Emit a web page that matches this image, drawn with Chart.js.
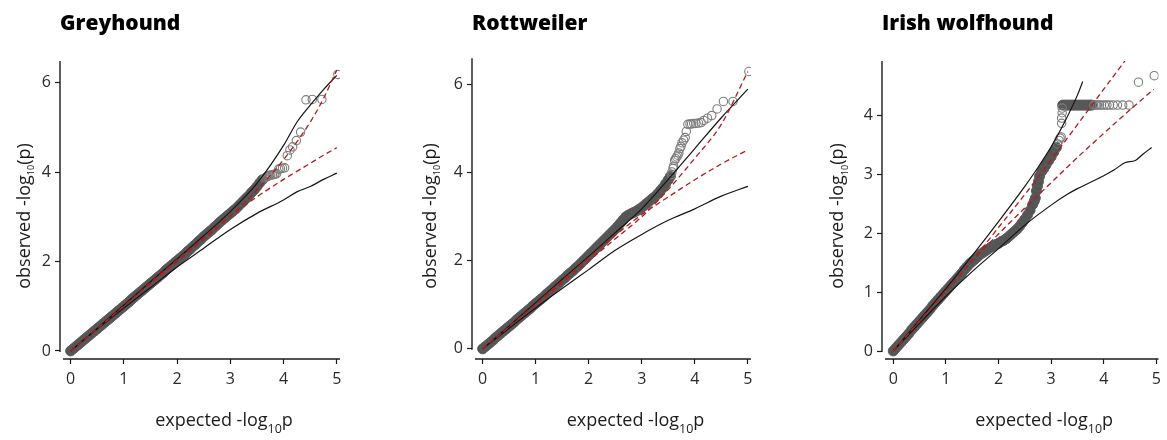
<!DOCTYPE html>
<html>
<head>
<meta charset="utf-8">
<title>QQ plots</title>
<script src="https://cdn.jsdelivr.net/npm/chart.js@4.4.1/dist/chart.umd.min.js"></script>
<style>
  html, body { margin: 0; padding: 0; background: #fff; }
  #wrap { position: relative; width: 1167px; height: 440px; }
  #wrap canvas { position: absolute; top: 0; }
</style>
</head>
<body>
<div id="wrap">
  <canvas id="greyhound" width="389" height="440" style="left:0px"></canvas>
  <canvas id="rottweiler" width="389" height="440" style="left:389px"></canvas>
  <canvas id="wolfhound" width="389" height="440" style="left:778px"></canvas>
</div>
<script>
// shared axis text
const xTicks = [0, 1, 2, 3, 4, 5];
const xTitleParts = ['expected -log', '10', 'p'];
const yTitleParts = ['observed -log', '10', '(p)'];

// Greyhound
const greyTitle = 'Greyhound';
const greyYTicks = [0, 2, 4, 6];
const greyCurveX = [0, 0.5, 1, 1.5, 2, 2.5, 3, 3.5, 4, 4.25, 4.5, 4.75, 5];
const greyBandUpper = [0, 0.51, 1.03, 1.55, 2.06, 2.58, 3.12, 3.75, 4.6, 5.12, 5.5, 5.85, 6.17];
const greyBandLower = [0, 0.49, 0.96, 1.42, 1.88, 2.3, 2.72, 3.08, 3.38, 3.56, 3.68, 3.84, 3.98];
const greyRedUpper = [0, 0.5, 1.0, 1.5, 2.0, 2.5, 3.02, 3.6, 4.28, 4.68, 5.12, 5.65, 6.29];
const greyRedLower = [0, 0.5, 1.01, 1.53, 2.04, 2.54, 3.02, 3.45, 3.84, 4.02, 4.2, 4.38, 4.55];
const greyDenseX = [0, 0.05, 0.1, 0.15, 0.2, 0.25, 0.3, 0.35, 0.4, 0.45, 0.5, 0.55, 0.6, 0.65, 0.7, 0.75, 0.8, 0.85, 0.9, 0.95,
  1.0, 1.05, 1.1, 1.15, 1.2, 1.25, 1.3, 1.35, 1.4, 1.45, 1.5, 1.55, 1.6, 1.65, 1.7, 1.75, 1.8, 1.85, 1.9, 1.95,
  2.0, 2.05, 2.1, 2.15, 2.2, 2.25, 2.3, 2.35, 2.4, 2.45, 2.5, 2.55, 2.6, 2.65, 2.7, 2.75, 2.8, 2.85, 2.9, 2.95,
  3.0, 3.05, 3.1, 3.15, 3.2, 3.25, 3.3, 3.35, 3.4, 3.45, 3.5, 3.55, 3.6];
const greyDenseY = [0, 0.05, 0.1, 0.15, 0.2, 0.25, 0.3, 0.35, 0.4, 0.45, 0.5, 0.55, 0.6, 0.65, 0.7, 0.75, 0.8, 0.85, 0.9, 0.95,
  1.0, 1.05, 1.1, 1.16, 1.21, 1.26, 1.31, 1.36, 1.41, 1.46, 1.51, 1.56, 1.61, 1.66, 1.71, 1.76, 1.82, 1.87, 1.92, 1.97,
  2.02, 2.07, 2.12, 2.17, 2.23, 2.28, 2.34, 2.39, 2.45, 2.5, 2.56, 2.61, 2.66, 2.71, 2.77, 2.82, 2.88, 2.93, 2.98, 3.03,
  3.08, 3.13, 3.18, 3.24, 3.3, 3.36, 3.42, 3.48, 3.55, 3.61, 3.68, 3.76, 3.83];
const greyTailX = [3.64, 3.66, 3.68, 3.7, 3.72, 3.74, 3.76, 3.79, 3.82, 3.84, 3.87, 3.91, 3.94, 3.98, 4.02,
  4.07, 4.12, 4.17, 4.24, 4.32, 4.42, 4.54, 4.72, 5.02];
const greyTailY = [3.86, 3.88, 3.9, 3.91, 3.92, 3.93, 3.94, 3.94, 3.95, 3.96, 3.97, 4.07, 4.08, 4.09, 4.1,
  4.37, 4.5, 4.57, 4.71, 4.9, 5.62, 5.63, 5.63, 6.19];

// Rottweiler
const rottTitle = 'Rottweiler';
const rottYTicks = [0, 2, 4, 6];
const rottCurveX = [0, 0.5, 1, 1.5, 2, 2.5, 3, 3.5, 4, 4.5, 5];
const rottBandUpper = [0, 0.52, 1.05, 1.58, 2.1, 2.64, 3.18, 3.85, 4.55, 5.25, 5.9];
const rottBandLower = [0, 0.47, 0.93, 1.37, 1.8, 2.24, 2.6, 2.92, 3.18, 3.47, 3.69];
const rottRedUpper = [0, 0.5, 1.0, 1.5, 2.0, 2.5, 3.0, 3.62, 4.33, 5.1, 6.3];
const rottRedLower = [0, 0.51, 1.02, 1.55, 2.07, 2.58, 3.05, 3.45, 3.84, 4.2, 4.52];
const rottDenseX = [0, 0.05, 0.1, 0.15, 0.2, 0.25, 0.3, 0.35, 0.4, 0.45, 0.5, 0.55, 0.6, 0.65, 0.7, 0.75, 0.8, 0.85, 0.9, 0.95,
  1.0, 1.05, 1.1, 1.15, 1.2, 1.25, 1.3, 1.35, 1.4, 1.45, 1.5, 1.55, 1.6, 1.65, 1.7, 1.75, 1.8, 1.85, 1.9, 1.95,
  2.0, 2.05, 2.1, 2.15, 2.2, 2.25, 2.3, 2.35, 2.4, 2.45, 2.5, 2.55, 2.6, 2.65, 2.7, 2.75, 2.8, 2.85, 2.9, 2.95,
  3.0, 3.05, 3.1, 3.15, 3.2, 3.25, 3.3, 3.35, 3.4, 3.45, 3.5, 3.54];
const rottDenseY = [0, 0.05, 0.1, 0.15, 0.2, 0.26, 0.31, 0.36, 0.41, 0.46, 0.51, 0.56, 0.61, 0.67, 0.72, 0.77, 0.82, 0.87, 0.92, 0.98,
  1.03, 1.08, 1.13, 1.18, 1.24, 1.29, 1.34, 1.4, 1.45, 1.5, 1.56, 1.61, 1.67, 1.72, 1.77, 1.83, 1.88, 1.94, 2.0, 2.06,
  2.12, 2.18, 2.24, 2.3, 2.36, 2.42, 2.48, 2.54, 2.6, 2.66, 2.72, 2.79, 2.86, 2.93, 3.0, 3.04, 3.07, 3.1, 3.13, 3.17,
  3.21, 3.26, 3.31, 3.36, 3.41, 3.46, 3.52, 3.59, 3.66, 3.75, 3.84, 3.92];
const rottTailX = [3.56, 3.57, 3.59, 3.6, 3.62, 3.64, 3.66, 3.68, 3.7, 3.72, 3.74, 3.76, 3.79, 3.82, 3.84,
  3.87, 3.91, 3.94, 3.98, 4.02, 4.07, 4.12, 4.17, 4.24, 4.32, 4.42, 4.54, 4.72, 5.02];
const rottTailY = [3.96, 4.02, 4.1, 4.15, 4.28, 4.32, 4.36, 4.4, 4.45, 4.55, 4.6, 4.68, 4.74, 4.8, 4.94,
  5.1, 5.11, 5.11, 5.12, 5.12, 5.13, 5.14, 5.19, 5.24, 5.3, 5.45, 5.62, 5.62, 6.3];

// Irish wolfhound
const wolfTitle = 'Irish wolfhound';
const wolfYTicks = [0, 1, 2, 3, 4];
const wolfUpperX = [0, 0.5, 1, 1.5, 2, 2.5, 2.75, 3, 3.25, 3.5, 3.6];
const wolfBandUpper = [0, 0.53, 1.06, 1.62, 2.2, 2.8, 3.12, 3.47, 3.88, 4.35, 4.58];
const wolfLowerX = [0, 0.5, 1, 1.5, 2, 2.5, 3, 3.3, 3.5, 4, 4.2, 4.4, 4.6, 4.75, 4.91];
const wolfBandLower = [0, 0.47, 0.93, 1.35, 1.74, 2.14, 2.48, 2.66, 2.76, 2.98, 3.08, 3.2, 3.24, 3.35, 3.46];
const wolfRedUpperX = [0, 0.5, 1, 1.5, 2, 2.5, 3, 3.5, 4, 4.5];
const wolfRedUpper = [0, 0.51, 1.02, 1.54, 2.1, 2.66, 3.25, 3.85, 4.45, 5.05];
const wolfRedLowerX = [0, 0.5, 1, 1.5, 2, 2.5, 3, 3.5, 4, 4.5, 4.95];
const wolfRedLower = [0, 0.51, 1.02, 1.53, 1.99, 2.43, 2.86, 3.29, 3.7, 4.1, 4.45];
const wolfDenseX = [0, 0.05, 0.1, 0.15, 0.2, 0.25, 0.3, 0.35, 0.4, 0.45, 0.5, 0.55, 0.6, 0.65, 0.7, 0.75, 0.8, 0.85, 0.9, 0.95,
  1.0, 1.05, 1.1, 1.15, 1.2, 1.25, 1.3, 1.35, 1.4, 1.45, 1.5, 1.55, 1.6, 1.65, 1.7, 1.75, 1.8, 1.85, 1.9, 1.95,
  2.0, 2.05, 2.1, 2.15, 2.2, 2.25, 2.3, 2.35, 2.4, 2.45, 2.5, 2.55, 2.6, 2.65, 2.68, 2.7, 2.72, 2.74, 2.76, 2.78,
  2.82, 2.86, 2.9, 2.95, 3.0, 3.05, 3.1,
  3.22, 3.26, 3.3, 3.34, 3.38, 3.42, 3.46, 3.5, 3.54, 3.58, 3.62, 3.66, 3.7, 3.74, 3.77];
const wolfDenseY = [0, 0.05, 0.1, 0.15, 0.2, 0.25, 0.3, 0.36, 0.41, 0.46, 0.51, 0.56, 0.61, 0.66, 0.71, 0.77, 0.82, 0.87, 0.92, 0.97,
  1.02, 1.07, 1.12, 1.17, 1.22, 1.27, 1.32, 1.38, 1.43, 1.48, 1.52, 1.56, 1.6, 1.64, 1.67, 1.7, 1.73, 1.76, 1.78, 1.81,
  1.83, 1.86, 1.88, 1.91, 1.95, 1.99, 2.03, 2.07, 2.12, 2.18, 2.24, 2.31, 2.39, 2.49, 2.55, 2.6, 2.72, 2.8, 2.88, 2.97,
  3.05, 3.1, 3.16, 3.23, 3.3, 3.38, 3.46,
  4.18, 4.18, 4.18, 4.18, 4.18, 4.18, 4.18, 4.18, 4.18, 4.18, 4.18, 4.18, 4.18, 4.18, 4.18];
const wolfTailX = [3.12, 3.15, 3.17, 3.19, 3.2, 3.2, 3.21, 3.21, 3.81, 3.85, 3.88, 3.92, 3.96, 4.01, 4.06,
  4.11, 4.18, 4.26, 4.36, 4.48, 4.66, 4.96];
const wolfTailY = [3.52, 3.58, 3.62, 3.64, 3.87, 3.96, 4.05, 4.13, 4.18, 4.18, 4.18, 4.18, 4.18, 4.18, 4.18,
  4.18, 4.18, 4.18, 4.18, 4.18, 4.57, 4.68];

Chart.defaults.font.family = '"Open Sans", sans-serif';

function pts(xs, ys) {
  return xs.map((x, i) => ({ x: x, y: ys[i] }));
}

// text with a subscript in the middle part (log10)
function drawSubText(ctx, parts, x, y, rot, sizes, drop) {
  const fonts = parts.map((p, i) => (i === 1 ? sizes[1] : sizes[0]) + 'px "Open Sans", sans-serif');
  const widths = parts.map((p, i) => { ctx.font = fonts[i]; return ctx.measureText(p).width; });
  const total = widths.reduce((s, w) => s + w, 0);
  ctx.save();
  ctx.translate(x, y);
  ctx.rotate(rot);
  ctx.textAlign = 'left';
  ctx.textBaseline = 'alphabetic';
  let cx = -total / 2;
  parts.forEach((p, i) => {
    ctx.font = fonts[i];
    ctx.fillText(p, cx, i === 1 ? drop : 0);
    cx += widths[i];
  });
  ctx.restore();
}

// R-style axis lines + axis titles
const qqAxes = {
  id: 'qqAxes',
  afterDraw(chart, args, opts) {
    const ctx = chart.ctx;
    const a = chart.chartArea;
    const y0 = chart.scales.y.getPixelForValue(0);
    ctx.save();
    ctx.strokeStyle = '#1c1c1c';
    ctx.lineWidth = 1.4;
    ctx.beginPath();
    ctx.moveTo(a.left, a.top);
    ctx.lineTo(a.left, y0 + 1);
    ctx.moveTo(a.left + 3, a.bottom);
    ctx.lineTo(a.right, a.bottom);
    ctx.stroke();
    ctx.fillStyle = '#1c1c1c';
    drawSubText(ctx, xTitleParts, (a.left + a.right) / 2 + 24, 426, 0, [18, 12.5], 6.5);
    drawSubText(ctx, yTitleParts, opts.yTitleX, 216, -Math.PI / 2, [18, 9], 4.5);
    ctx.restore();
  }
};

function curve(xs, ys, color, dashed) {
  return {
    data: pts(xs, ys),
    showLine: true,
    pointRadius: 0,
    borderColor: color,
    borderWidth: dashed ? 1.3 : 1.2,
    borderDash: dashed ? [5.5, 3.5] : [],
    cubicInterpolationMode: 'monotone'
  };
}

function makePanel(p) {
  const red = '#b01c1c';
  const black = '#151515';
  new Chart(document.getElementById(p.id), {
    type: 'scatter',
    data: {
      datasets: [
        curve(p.redUpper[0], p.redUpper[1], red, true),
        curve(p.redLower[0], p.redLower[1], red, true),
        curve(p.upper[0], p.upper[1], black, false),
        curve(p.lower[0], p.lower[1], black, false),
        {
          data: pts(p.tail[0], p.tail[1]),
          pointRadius: 4.2,
          pointBorderWidth: 1.1,
          pointBorderColor: '#7c7c7c',
          pointBackgroundColor: 'rgba(0,0,0,0)'
        },
        {
          data: pts(p.dense[0], p.dense[1]),
          pointRadius: 5,
          pointBorderWidth: 1,
          pointBorderColor: '#5c5c5c',
          pointBackgroundColor: '#545454'
        }
      ]
    },
    options: {
      responsive: false,
      animation: false,
      events: [],
      layout: { padding: { left: 0, right: p.padR, top: 0, bottom: 0 } },
      plugins: {
        legend: { display: false },
        tooltip: { enabled: false },
        title: {
          display: true,
          text: p.title,
          align: 'start',
          fullSize: false,
          color: '#000',
          font: { size: 21, weight: '800' },
          padding: { top: 11.5, bottom: p.titleBottom }
        },
        qqAxes: { yTitleX: p.yTitleX }
      },
      scales: {
        x: {
          type: 'linear',
          min: p.xRange[0],
          max: p.xRange[1],
          afterFit: s => { s.height = 81; },
          afterBuildTicks: s => { s.ticks = xTicks.map(v => ({ value: v })); },
          border: { display: false },
          grid: { drawOnChartArea: false, drawTicks: true, tickLength: 5, tickColor: '#1c1c1c', tickWidth: 1.2 },
          ticks: { color: '#2a2a2a', font: { size: 16 }, padding: 6, maxRotation: 0, autoSkip: false }
        },
        y: {
          type: 'linear',
          min: p.yRange[0],
          max: p.yRange[1],
          afterFit: s => { s.width = p.axisW; },
          afterBuildTicks: s => { s.ticks = p.yTicks.map(v => ({ value: v })); },
          border: { display: false },
          grid: { drawOnChartArea: false, drawTicks: true, tickLength: 5, tickColor: '#1c1c1c', tickWidth: 1.2 },
          ticks: { color: '#2a2a2a', font: { size: 16 }, padding: 4, autoSkip: false }
        }
      }
    },
    plugins: [qqAxes]
  });
}

makePanel({
  id: 'greyhound', title: greyTitle, yTicks: greyYTicks,
  xRange: [-0.2, 5.06], yRange: [-0.18, 6.49],
  axisW: 60, padR: 49, titleBottom: 24.3, yTitleX: 29.5,
  redUpper: [greyCurveX, greyRedUpper], redLower: [greyCurveX, greyRedLower],
  upper: [greyCurveX, greyBandUpper], lower: [greyCurveX, greyBandLower],
  dense: [greyDenseX, greyDenseY], tail: [greyTailX, greyTailY]
});

makePanel({
  id: 'rottweiler', title: rottTitle, yTicks: rottYTicks,
  xRange: [-0.2, 5.06], yRange: [-0.23, 6.6],
  axisW: 83, padR: 27, titleBottom: 21.6, yTitleX: 46.7,
  redUpper: [rottCurveX, rottRedUpper], redLower: [rottCurveX, rottRedLower],
  upper: [rottCurveX, rottBandUpper], lower: [rottCurveX, rottBandLower],
  dense: [rottDenseX, rottDenseY], tail: [rottTailX, rottTailY]
});

makePanel({
  id: 'wolfhound', title: wolfTitle, yTicks: wolfYTicks,
  xRange: [-0.214, 5.04], yRange: [-0.136, 4.93],
  axisW: 104, padR: 7, titleBottom: 24.3, yTitleX: 65.3,
  redUpper: [wolfRedUpperX, wolfRedUpper], redLower: [wolfRedLowerX, wolfRedLower],
  upper: [wolfUpperX, wolfBandUpper], lower: [wolfLowerX, wolfBandLower],
  dense: [wolfDenseX, wolfDenseY], tail: [wolfTailX, wolfTailY]
});
</script>
</body>
</html>
